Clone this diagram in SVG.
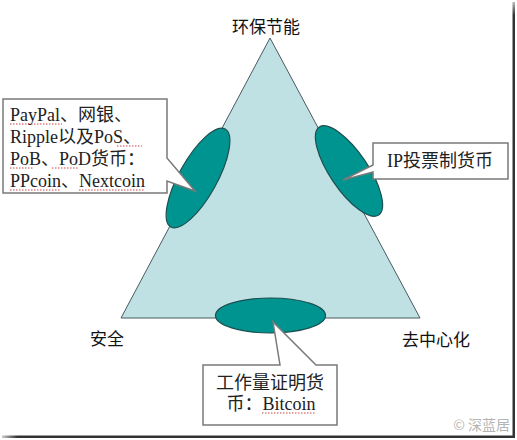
<svg xmlns="http://www.w3.org/2000/svg" width="517" height="440" viewBox="0 0 517 440">
<style>
.lbl{font-family:"Noto Sans CJK SC","Noto Sans",sans-serif;font-size:17px;fill:#111;text-anchor:middle}
.ct{font-family:"Liberation Serif","Noto Sans CJK SC",serif;font-size:18px;fill:#222}
.ell{fill:#009490;stroke:#1d4f50;stroke-width:1.2}
.box{fill:#fff;stroke:#7a7a7a;stroke-width:1.5;stroke-linejoin:miter}
.sq{fill:none;stroke:#d04040;stroke-width:1;stroke-dasharray:1.5 1.5}
</style>
<defs>
<linearGradient id="shv" x1="0" y1="0" x2="0" y2="1"><stop offset="0" stop-color="#bbb"/><stop offset="0.03" stop-color="#333"/><stop offset="1" stop-color="#333"/></linearGradient>
<linearGradient id="shh" x1="0" y1="0" x2="1" y2="0"><stop offset="0" stop-color="#ccc"/><stop offset="0.03" stop-color="#333"/><stop offset="1" stop-color="#333"/></linearGradient>
</defs>
<rect width="517" height="440" fill="#fff"/>
<rect x="512.5" y="2" width="2.5" height="436" fill="url(#shv)"/>
<rect x="2" y="435.5" width="513" height="2.5" fill="url(#shh)"/>

<g id="triangle">
<polygon points="270,38 121,318 420,318" fill="#bfe1e3" stroke="#4a5a60" stroke-width="1"/>
</g>
<g id="top-label"><text class="lbl" x="266" y="33">环保节能</text></g>
<g id="left-label"><text class="lbl" x="107" y="345">安全</text></g>
<g id="right-label"><text class="lbl" x="436" y="346">去中心化</text></g>

<g id="ellipse-left"><ellipse class="ell" cx="198" cy="178" rx="19" ry="56" transform="rotate(29 198 178)"/></g>
<g id="ellipse-right"><ellipse class="ell" cx="349" cy="171" rx="19" ry="53" transform="rotate(-34 349 171)"/></g>
<g id="ellipse-bottom"><ellipse class="ell" cx="270.5" cy="315.5" rx="55" ry="17.5"/></g>

<g id="callout-left">
<path class="box" d="M3,99 H167 V158 L195,191 L167,181 V193 H3 Z"/>
<text class="ct" x="10" y="121">PayPal、网银、</text>
<text class="ct" x="10" y="143">Ripple以及PoS、</text>
<text class="ct" x="10" y="165">PoB、PoD货币：</text>
<text class="ct" x="10" y="187">PPcoin、Nextcoin</text>
<path class="sq" d="M10,124 H62 M117,146 H142 M10,168 H34 M52,168 H78 M10,190 H61 M79,190 H145"/>
</g>

<g id="callout-right">
<path class="box" d="M373,143 H508 V179 H373 V172 L343,180 L373,165 Z"/>
<text class="ct" x="440" y="167" text-anchor="middle">IP投票制货币</text>
</g>

<g id="callout-bottom">
<path class="box" d="M203,365 H280 L273,322 L316,365 H337 V425 H203 Z"/>
<text class="ct" x="270" y="389" text-anchor="middle">工作量证明货</text>
<text class="ct" x="271" y="410" text-anchor="middle">币：Bitcoin</text>
<path class="sq" d="M262,413 H316"/>
</g>

<g id="connectors"></g>

<g id="watermark"><text x="510" y="430" text-anchor="end" font-family="Noto Sans CJK SC,Noto Sans,sans-serif" font-size="14" fill="#b5b5b5">© 深蓝居</text></g>
</svg>
